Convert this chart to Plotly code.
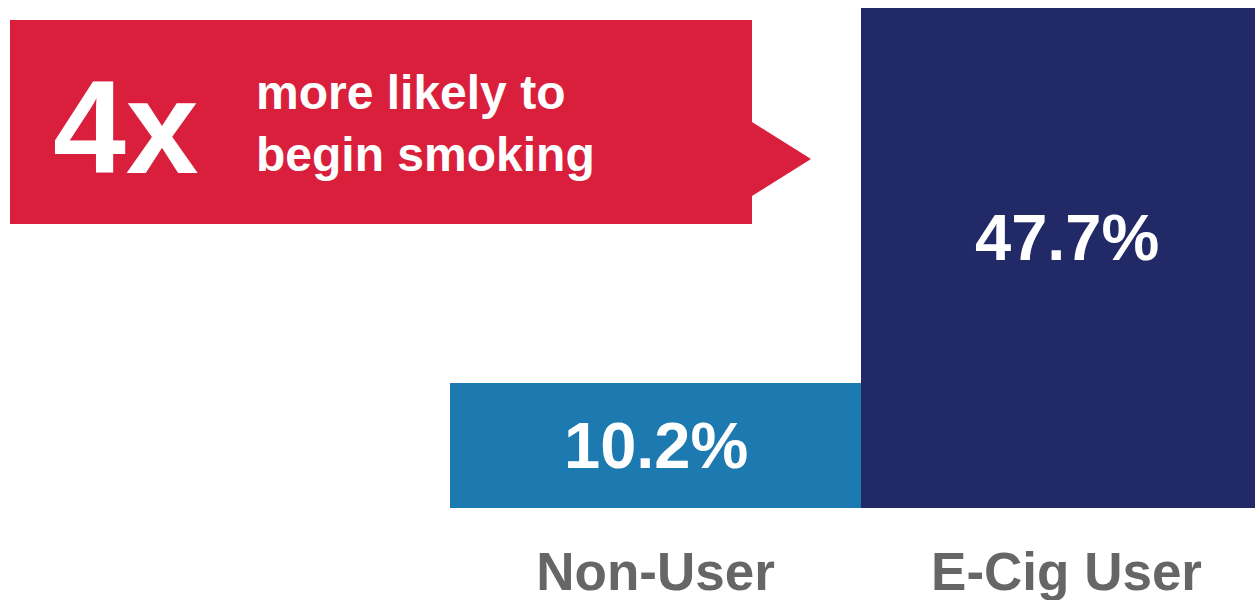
import plotly.graph_objects as go
import math

categories = ["Non-User", "E-Cig User"]
values = [10.2, 47.7]
bar_colors = ["#1C7AB0", "#212966"]
headline = "4x"
subline = "more likely to<br>begin smoking"

W, H = 1255, 600
top, bottom = 8, 508

fig = go.Figure()
fig.add_trace(go.Bar(
    x=categories, y=values, marker=dict(color=bar_colors, line=dict(width=0)),
    width=1.0, hoverinfo="x+y",
))

# value labels
label_pos = [0.125, 0.54]
for c, v, yp in zip(categories, values, label_pos):
    fig.add_annotation(x=c, y=yp, xref="x", yref="paper", text=f"<b>{v}%</b>",
                       showarrow=False, font=dict(family="Liberation Sans", size=65, color="white"),
                       xanchor="center", yanchor="middle")

def px(x):
    return x / W

def py(y):
    return (bottom - y) / (bottom - top)

pts = [(10, 20), (752, 20), (752, 122), (811, 159), (752, 196), (752, 224), (10, 224)]
path = "M " + " L ".join(f"{px(a):.5f},{py(b):.5f}" for a, b in pts) + " Z"
fig.add_shape(type="path", path=path, xref="paper", yref="paper",
              fillcolor="#D91F3C", line=dict(width=0), layer="above")

fig.add_annotation(x=px(51), y=py(127), xref="paper", yref="paper", text=f"<b>{headline}</b>",
                   showarrow=False, xanchor="left", yanchor="middle",
                   font=dict(family="Liberation Sans", size=131, color="white"))
fig.add_annotation(x=px(254), y=py(124), xref="paper", yref="paper", text=f"<b>{subline}</b>",
                   showarrow=False, xanchor="left", yanchor="middle", align="left",
                   font=dict(family="Liberation Sans", size=48, color="white"))

lo = -0.5 - 450 / 411
hi = -0.5 + (W - 450) / 411
ymin = (math.log10(values[0]) - 0.25 * math.log10(values[1])) / 0.75

fig.update_layout(
    width=W, height=H,
    margin=dict(l=0, r=0, t=top, b=H - bottom, pad=0),
    paper_bgcolor="white", plot_bgcolor="white",
    bargap=0, showlegend=False,
    font=dict(family="Liberation Sans"),
    xaxis=dict(range=[lo, hi], showgrid=False, zeroline=False, showline=False,
               ticks="", ticklabelstandoff=28,
               tickfont=dict(family="Liberation Sans", size=53, color="#666666"),
               tickprefix="<b>", ticksuffix="</b>"),
    yaxis=dict(type="log", range=[ymin, math.log10(values[1])], visible=False),
)

fig.write_html("out.html")
